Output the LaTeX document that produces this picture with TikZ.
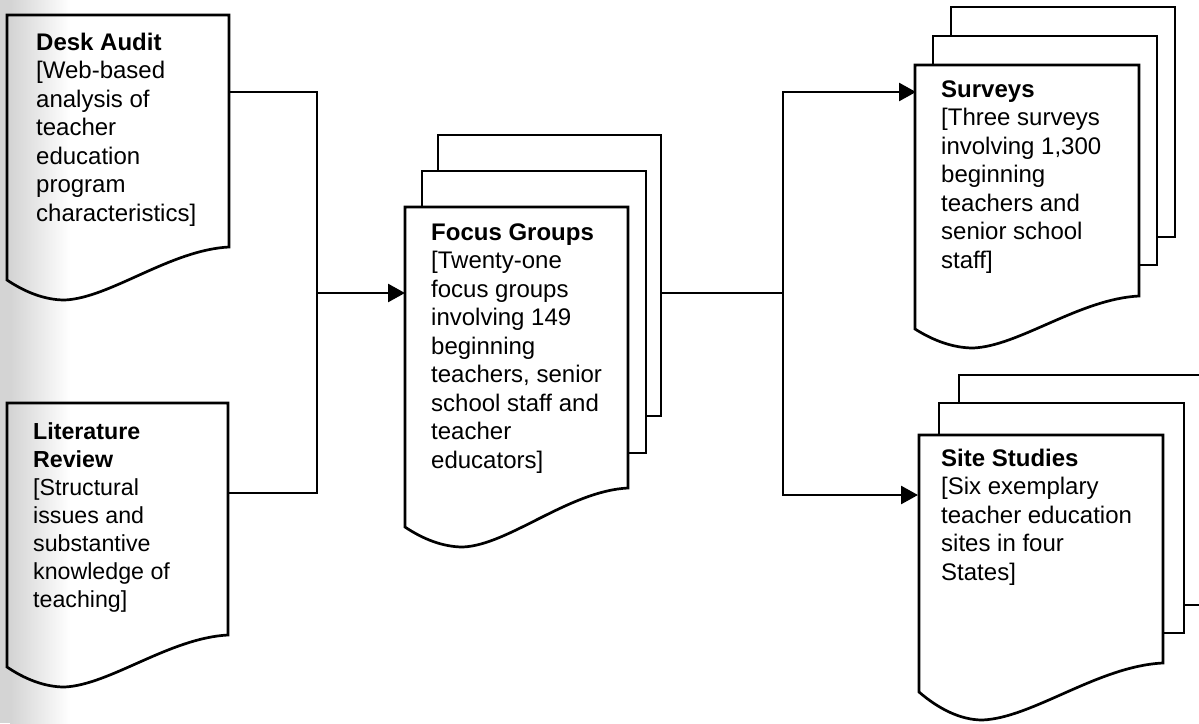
\documentclass[tikz,border=0pt]{standalone}
\usepackage{fontspec}
\setmainfont{Liberation Sans}
\usetikzlibrary{arrows.meta}
\newcommand{\myline}[1]{\hbox{#1}}
\newcommand{\docshape}[7]{%
  \pgfmathsetmacro\dw{#3-#1}%
  \draw[box,#7] (#1,#2) -- (#3,#2) -- (#3,#4)
    .. controls ({#3-0.265*\dw},{#4+3}) and ({#1+0.465*\dw},{#4+#6-2}) .. ({#1+0.26*\dw},{#4+#6})
    .. controls ({#1+0.17*\dw},{#4+#6}) and ({#1+0.08*\dw},{#4+#5+0.6*(#6-#5)}) .. (#1,{#4+#5}) -- cycle;}
\begin{document}
\begin{tikzpicture}[x=1pt,y=-1pt,
  box/.style={line width=2.7pt, line join=miter},
  paper/.style={line width=2.7pt, fill=white},
  wire/.style={line width=2.7pt},
  arr/.style={wire, -{Triangle[length=17pt,width=18pt]}},
  txt/.style={anchor=base west, inner sep=0pt, font=\fontsize{24}{28.5}\selectfont}]
\useasboundingbox (0,0) rectangle (1199,723);
\clip (0,0) rectangle (1199,723);
\fill[white] (0,0) rectangle (1199,723);
% scan shading at the left edge
\fill[black!17] (0,0) rectangle (10,723);
\shade[left color=black!17, right color=white] (10,0) rectangle (70,723);

% Desk Audit
\docshape{7}{15}{229}{247}{33}{53}{}
\node[txt] (desk) at (36,50) {\vtop{\myline{\bfseries Desk Audit}\myline{[Web-based}\myline{analysis of}\myline{teacher}\myline{education}\myline{program}\myline{characteristics]}}};
% Literature Review
\docshape{7}{403}{228}{635}{32}{52}{}
\node[txt, font=\fontsize{23.2}{28}\selectfont] (lit) at (33,439) {\vtop{\myline{\bfseries Literature}\myline{\bfseries Review}\myline{[Structural}\myline{issues and}\myline{substantive}\myline{knowledge of}\myline{teaching]}}};

% Focus Groups stack
\draw[paper] (438,135) rectangle (661,416);
\draw[paper] (422,171) rectangle (646,453);
\docshape{405}{207}{628}{488}{39}{59}{fill=white}
\node[txt] (focus) at (431,240) {\vtop{\myline{\bfseries Focus Groups}\myline{[Twenty-one}\myline{focus groups}\myline{involving 149}\myline{beginning}\myline{teachers, senior}\myline{school staff and}\myline{teacher}\myline{educators]}}};

% Surveys stack
\draw[paper] (951,7) rectangle (1175,237);
\draw[paper] (933,36) rectangle (1157,265);
\docshape{915}{65}{1139}{296}{33}{52}{fill=white}
\node[txt] (surv) at (941,97) {\vtop{\myline{\bfseries Surveys}\myline{[Three surveys}\myline{involving 1,300}\myline{beginning}\myline{teachers and}\myline{senior school}\myline{staff]}}};

% Site Studies stack
\draw[paper] (959,375) rectangle (1203,605);
\draw[paper] (939,403) rectangle (1184,633);
\docshape{919}{435}{1163}{663}{29}{57}{fill=white}
\node[txt] (site) at (941,466) {\vtop{\myline{\bfseries Site Studies}\myline{[Six exemplary}\myline{teacher education}\myline{sites in four}\myline{States]}}};

% connector points
\coordinate (desk-out) at (229,92);
\coordinate (lit-out) at (228,493);
\coordinate (join1) at (317,293);
\coordinate (focus-in) at (405,293);
\coordinate (focus-out) at (661,293);
\coordinate (split) at (783,293);
\coordinate (surv-in) at (916,92);
\coordinate (site-in) at (918,495);

\draw[wire] (desk-out) -| (join1) |- (lit-out);
\draw[arr] (join1) -- (focus-in);
\draw[wire] (focus-out) -- (split);
\draw[arr] (split) |- (surv-in);
\draw[arr] (split) |- (site-in);
\end{tikzpicture}
\end{document}
